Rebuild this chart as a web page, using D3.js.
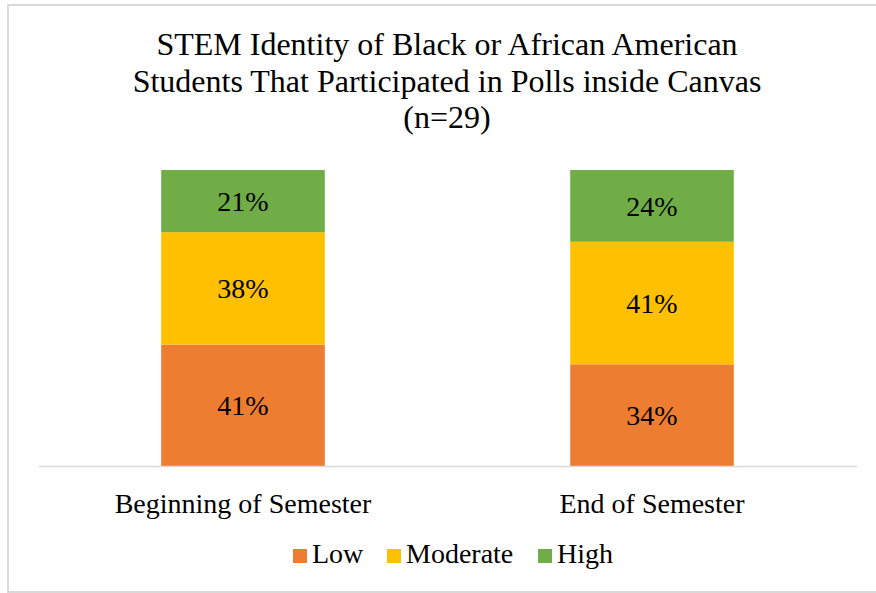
<!DOCTYPE html>
<html>
<head>
<meta charset="utf-8">
<script src="https://cdn.jsdelivr.net/npm/d3@7"></script>
<style>
  html, body { margin: 0; padding: 0; background: #fff; }
</style>
</head>
<body>
<svg id="chart" width="876" height="593"></svg>
<script>
// Survey periods (x categories)
const categories = ["Beginning of Semester", "End of Semester"];
// Identity levels, stacked bottom to top
const levels = ["Low", "Moderate", "High"];
// Percent of students at each level, per period
const lowValues = [41, 34];
const moderateValues = [38, 41];
const highValues = [21, 24];
const levelColors = ["#ED7D31", "#FFC000", "#70AD47"];
const titleLines = [
  "STEM Identity of Black or African American",
  "Students That Participated in Polls inside Canvas",
  "(n=29)"
];

const FONT = "Liberation Serif";

const rows = categories.map((c, i) => ({
  category: c,
  Low: lowValues[i],
  Moderate: moderateValues[i],
  High: highValues[i]
}));

const svg = d3.select("#chart").attr("font-family", FONT);
const W = 876, H = 593;

// outer chart frame
svg.append("rect")
  .attr("x", 8).attr("y", 5)
  .attr("width", W + 10).attr("height", H - 6)
  .attr("fill", "#fff")
  .attr("stroke", "#D9D9D9")
  .attr("stroke-width", 2);

const plot = { left: 38.5, right: 856.5, top: 170, bottom: 466 };

const x = d3.scaleBand()
  .domain(categories)
  .range([plot.left, plot.right])
  .paddingInner(0.6)
  .paddingOuter(0.3);

const y = d3.scaleLinear()
  .domain([0, 1])
  .range([plot.bottom, plot.top]);

const color = d3.scaleOrdinal().domain(levels).range(levelColors);

// 100% stacked layout
const series = d3.stack()
  .keys(levels)
  .offset(d3.stackOffsetExpand)(rows);

const groups = svg.append("g").selectAll("g")
  .data(series)
  .join("g")
  .attr("fill", d => color(d.key));

groups.selectAll("rect")
  .data(d => d.map(p => Object.assign(p, { key: d.key })))
  .join("rect")
  .attr("x", d => x(d.data.category))
  .attr("width", x.bandwidth())
  .attr("y", d => y(d[1]))
  .attr("height", d => y(d[0]) - y(d[1]));

// value labels centered in each segment
groups.selectAll("text")
  .data(d => d)
  .join("text")
  .attr("x", d => x(d.data.category) + x.bandwidth() / 2)
  .attr("y", d => (y(d[0]) + y(d[1])) / 2)
  .attr("dy", "0.35em")
  .attr("text-anchor", "middle")
  .attr("font-family", FONT)
  .attr("font-size", 28)
  .attr("fill", "#000")
  .text(d => d.data[d.key] + "%");

// category axis
const xAxis = svg.append("g")
  .attr("transform", `translate(0,${plot.bottom})`)
  .call(d3.axisBottom(x).tickSize(0).tickPadding(27));
xAxis.attr("font-family", FONT);
xAxis.select(".domain").attr("stroke", "#D9D9D9").attr("stroke-width", 1.5);
xAxis.selectAll("text")
  .attr("font-size", 28)
  .attr("font-family", FONT)
  .attr("fill", "#000");

// title
svg.append("text")
  .attr("x", 447)
  .attr("y", 55)
  .attr("text-anchor", "middle")
  .attr("font-family", FONT)
  .attr("font-size", 32)
  .attr("fill", "#000")
  .selectAll("tspan")
  .data(titleLines)
  .join("tspan")
  .attr("x", 447)
  .attr("dy", (d, i) => i === 0 ? 0 : 36.5)
  .text(d => d);

// legend
const legendItems = [
  { key: "Low", x: 293 },
  { key: "Moderate", x: 387 },
  { key: "High", x: 538 }
];
const legend = svg.append("g").attr("transform", "translate(0,563)");
const li = legend.selectAll("g").data(legendItems).join("g")
  .attr("transform", d => `translate(${d.x},0)`);
li.append("rect")
  .attr("x", 0).attr("y", -14)
  .attr("width", 14).attr("height", 14)
  .attr("fill", d => color(d.key));
li.append("text")
  .attr("x", 19)
  .attr("font-family", FONT)
  .attr("font-size", 28)
  .attr("fill", "#000")
  .text(d => d.key);
</script>
</body>
</html>
